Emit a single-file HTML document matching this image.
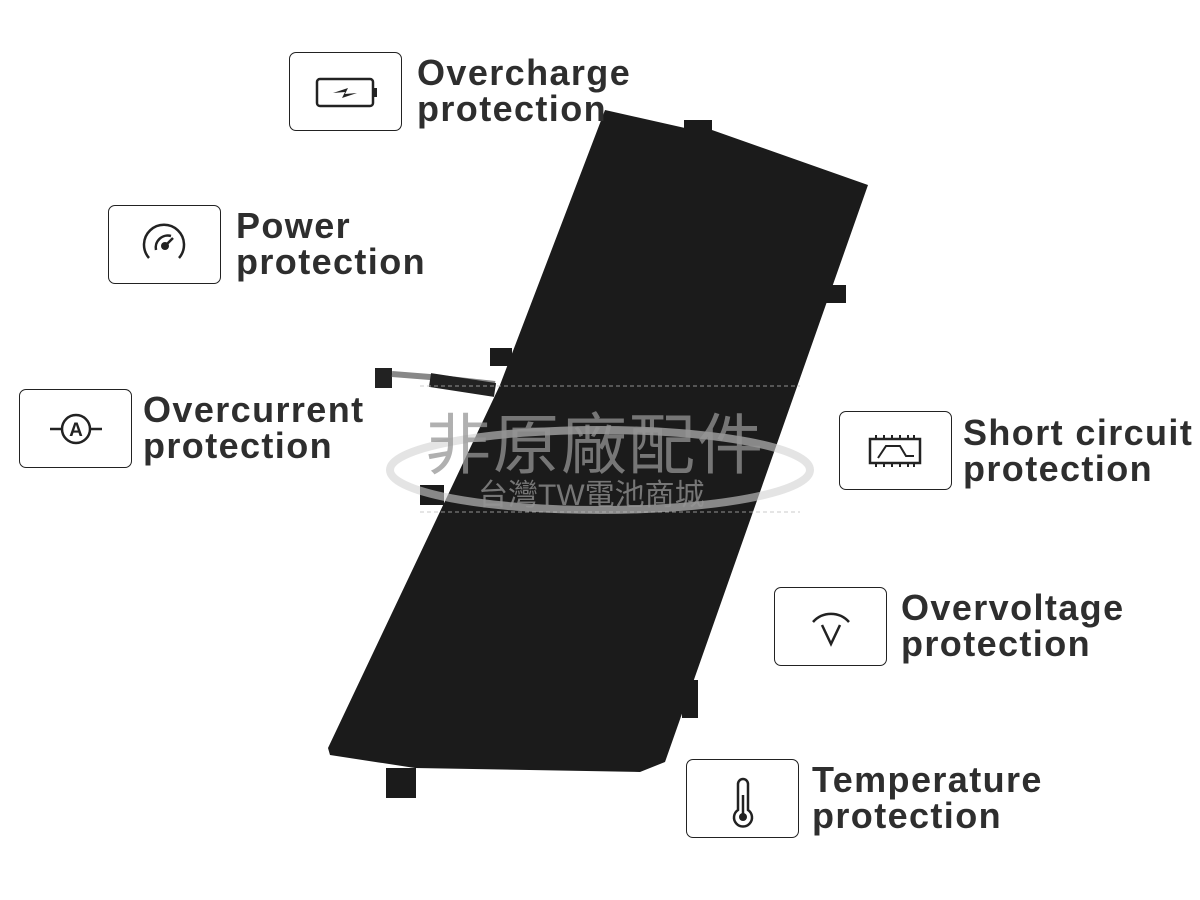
<!DOCTYPE html>
<html><head><meta charset="utf-8"><style>
body{margin:0;width:1200px;height:900px;background:#fff;position:relative;overflow:hidden;font-family:"Liberation Sans",sans-serif}
.box{position:absolute;width:113px;height:79px;border:1.5px solid #222;border-radius:7px;box-sizing:border-box;background:#fff}
.box svg{position:absolute;left:0;top:0}
.t{position:absolute;font-weight:bold;font-size:36px;line-height:36px;color:#2e2e2e;letter-spacing:1.4px}
.wm{position:absolute;font-family:"Liberation Sans","Noto Sans CJK TC",sans-serif;color:rgba(150,150,150,0.75)}
</style></head><body>
<svg width="1200" height="900" style="position:absolute;left:0;top:0">
<polygon points="605,110,685,128,712,130,868,185,665,762,640,772,415,768,330,755,328,748,500,385" fill="#1b1b1b"/>
<rect x="684" y="120" width="28" height="14" fill="#1b1b1b"/>
<rect x="826" y="285" width="20" height="18" fill="#1b1b1b"/>
<rect x="490" y="348" width="22" height="18" fill="#1b1b1b"/>
<rect x="420" y="485" width="24" height="20" fill="#1b1b1b"/>
<rect x="682" y="680" width="16" height="38" fill="#1b1b1b"/>
<rect x="386" y="768" width="30" height="30" fill="#1b1b1b"/>
<path d="M375 368 L392 368 L392 388 L375 388 Z" fill="#222"/>
<path d="M392 374 L430 377 L495 384" stroke="#888" stroke-width="6" fill="none"/>
<path d="M430 380 L495 390" stroke="#222" stroke-width="14"/>
<ellipse cx="600" cy="470" rx="210" ry="40" fill="none" stroke="rgba(210,210,210,0.6)" stroke-width="8"/>
<line x1="420" y1="386" x2="800" y2="386" stroke="#bbb" stroke-dasharray="4 3" stroke-width="0.8"/>
<line x1="420" y1="512" x2="800" y2="512" stroke="#bbb" stroke-dasharray="4 3" stroke-width="0.8"/>
</svg>
<div class="wm" style="left:425px;top:392px;font-size:66px;letter-spacing:2px">非原廠配件</div>
<div class="wm" style="left:478px;top:470px;font-size:30px">台灣TW電池商城</div>

<div class="box" style="left:289px;top:52px"><svg width="111" height="77"><rect x="27" y="26" width="56" height="27" rx="3" fill="none" stroke="#222" stroke-width="2.5"/><rect x="83" y="35" width="4" height="9" fill="#222"/><path d="M43 40 L55 39 L52 45 L67 40 L55 41 L58 35 Z" fill="#222"/></svg></div>
<div class="t" style="left:417px;top:55px">Overcharge<br>protection</div>

<div class="box" style="left:108px;top:205px"><svg width="111" height="77"><path d="M40 52 A20 20 0 1 1 70 52" fill="none" stroke="#222" stroke-width="2.5"/><path d="M47 44 A12 12 0 0 1 62 30" fill="none" stroke="#222" stroke-width="2.5"/><circle cx="56" cy="40" r="4" fill="#222"/><line x1="56" y1="40" x2="64" y2="32" stroke="#222" stroke-width="2.5"/></svg></div>
<div class="t" style="left:236px;top:208px">Power<br>protection</div>

<div class="box" style="left:19px;top:389px"><svg width="111" height="77"><circle cx="56" cy="39" r="14" fill="none" stroke="#222" stroke-width="2.5"/><line x1="30" y1="39" x2="42" y2="39" stroke="#222" stroke-width="2.5"/><line x1="70" y1="39" x2="82" y2="39" stroke="#222" stroke-width="2.5"/><text x="56" y="46" font-size="19" font-weight="bold" text-anchor="middle" fill="#222" font-family="Liberation Sans">A</text></svg></div>
<div class="t" style="left:143px;top:392px">Overcurrent<br>protection</div>

<div class="box" style="left:839px;top:411px"><svg width="111" height="77"><rect x="30" y="27" width="50" height="24" fill="none" stroke="#222" stroke-width="2.5"/><path d="M36 23v4M44 23v4M52 23v4M60 23v4M68 23v4M74 23v4M36 51v4M44 51v4M52 51v4M60 51v4M68 51v4M74 51v4M38 46 L46 34 L60 34 L66 44 L74 44" fill="none" stroke="#222" stroke-width="2"/></svg></div>
<div class="t" style="left:963px;top:415px">Short circuit<br>protection</div>

<div class="box" style="left:774px;top:587px"><svg width="111" height="77"><path d="M38 34 A24 24 0 0 1 74 34" fill="none" stroke="#222" stroke-width="2.5"/><path d="M47 37 L56 56 L65 37" fill="none" stroke="#222" stroke-width="2.5"/></svg></div>
<div class="t" style="left:901px;top:590px">Overvoltage<br>protection</div>

<div class="box" style="left:686px;top:759px"><svg width="111" height="77"><path d="M51 50 V24 A5 5 0 0 1 61 24 V50 A9 9 0 1 1 51 50 Z" fill="none" stroke="#222" stroke-width="2.5"/><circle cx="56" cy="57" r="4" fill="#222"/><line x1="56" y1="35" x2="56" y2="55" stroke="#222" stroke-width="2.5"/></svg></div>
<div class="t" style="left:812px;top:762px">Temperature<br>protection</div>
</body></html>
